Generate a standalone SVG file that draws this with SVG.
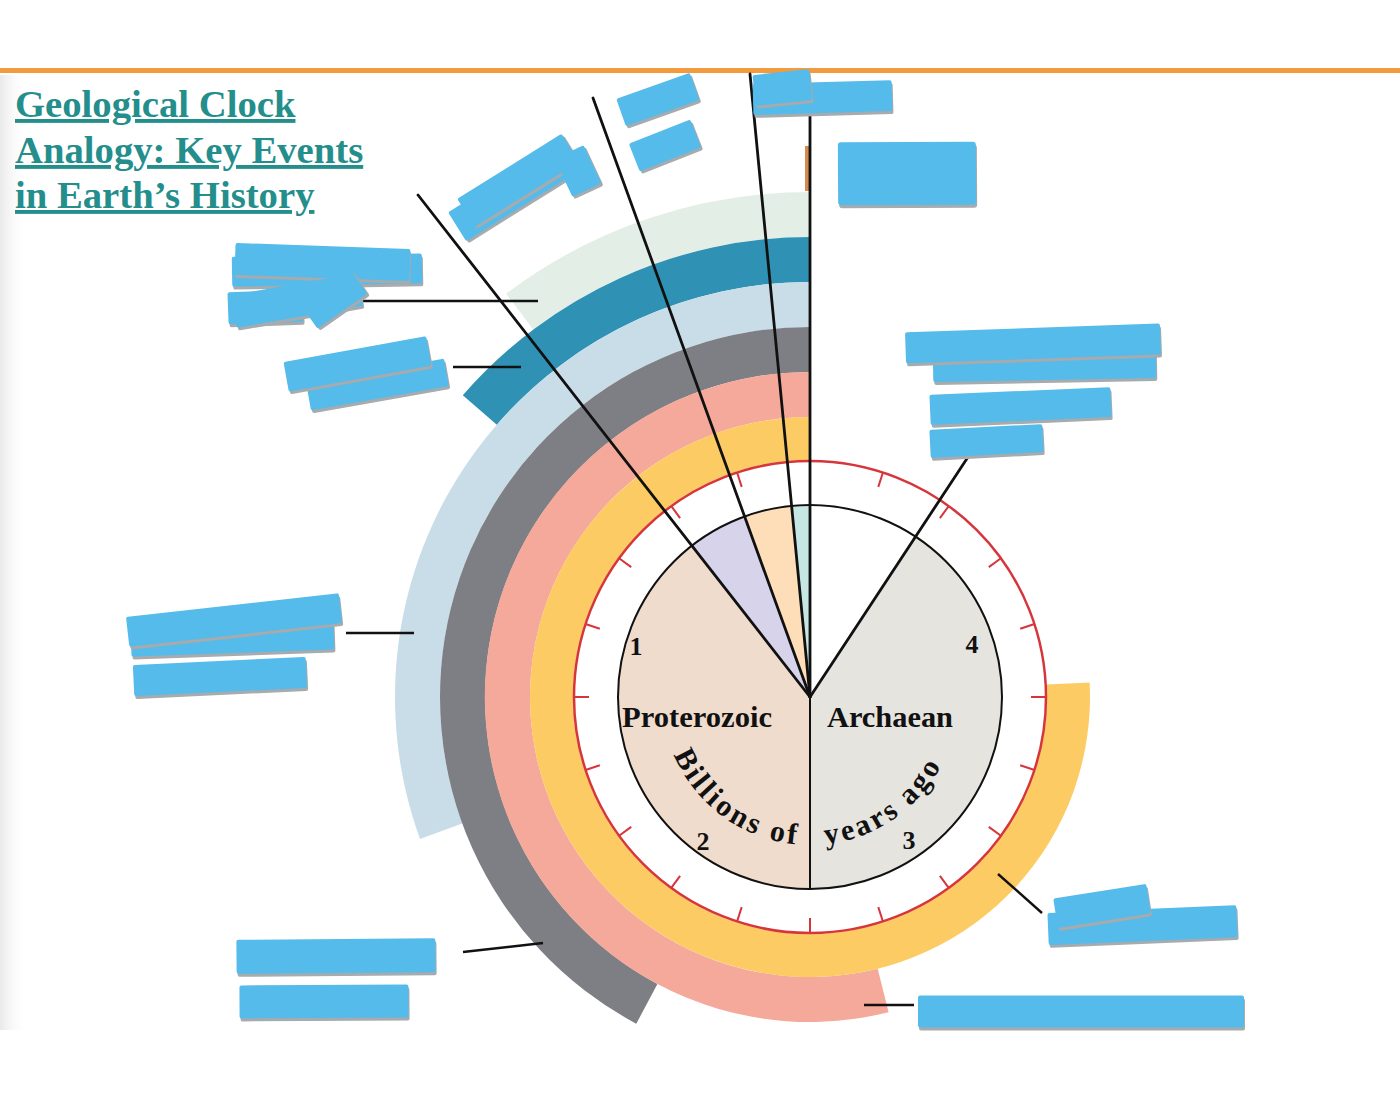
<svg xmlns="http://www.w3.org/2000/svg" width="1400" height="1100" viewBox="0 0 1400 1100">
<style>
.serif{font-family:"Liberation Serif","Times New Roman",serif;font-weight:bold}
.title{font-size:38.7px;fill:#238e8c;text-decoration:underline}
.lbl{font-size:29px;fill:#111}
.num{font-size:26px;fill:#111;text-anchor:middle}
.arc{font-size:30px;fill:#111;letter-spacing:3px}
.spoke{stroke:#111;stroke-width:2.8;fill:none;stroke-linecap:round}
.conn{stroke:#111;stroke-width:2.4;fill:none}
.tick{stroke:#d6353c;stroke-width:2}
.bx{fill:#55bbea}
.sh{fill:#a5abae}
</style>
<defs>
<path id="arcPath" d="M 662 697 A 148 148 0 0 0 958 697"/>
<linearGradient id="edge" x1="0" y1="0" x2="1" y2="0">
<stop offset="0" stop-color="#e9e9e9"/>
<stop offset="1" stop-color="#ffffff" stop-opacity="0"/>
</linearGradient>
</defs>
<rect x="0" y="0" width="1400" height="1100" fill="#ffffff"/>
<rect x="0" y="75" width="28" height="955" fill="url(#edge)"/>
<rect x="0" y="68" width="1400" height="5" fill="#f39a3d"/>

<g id="title" class="serif title">
<text x="15" y="117">Geological Clock</text>
<text x="15" y="163">Analogy: Key Events</text>
<text x="15" y="208">in Earth’s History</text>
</g>

<g id="bands">
<path id="band-palegreen" d="M 810 192 A 505 505 0 0 0 506.1 293.7 L 533.2 329.6 A 460 460 0 0 1 810 237 Z" fill="#e3efe6"/>
<path id="band-teal" d="M 810 237 A 460 460 0 0 0 462.8 395.2 L 496.8 424.7 A 415 415 0 0 1 810 282 Z" fill="#2f92b4"/>
<path id="band-lightblue" d="M 810 282 A 415 415 0 0 0 420 838.9 L 462.3 823.5 A 370 370 0 0 1 810 327 Z" fill="#c9dde8"/>
<path id="band-gray" d="M 810 327 A 370 370 0 0 0 636.3 1023.7 L 657.4 983.9 A 325 325 0 0 1 810 372 Z" fill="#7e7f84"/>
<path id="band-pink" d="M 810 372 A 325 325 0 1 0 888.6 1012.3 L 877.7 968.7 A 280 280 0 1 1 810 417 Z" fill="#f4a99b"/>
<path id="band-yellow" d="M 810 417 A 280 280 0 1 0 1089.6 682.4 L 1046.7 684.6 A 237 237 0 1 1 810 460 Z" fill="#fdcb64"/>
</g>

<g id="clock-ring">
<circle cx="810" cy="697" r="236" fill="none" stroke="#d6353c" stroke-width="2.5"/>
<g transform="translate(810 697)">
<line class="tick" x1="0" y1="-236" x2="0" y2="-221" transform="rotate(0)"/>
<line class="tick" x1="0" y1="-236" x2="0" y2="-221" transform="rotate(18)"/>
<line class="tick" x1="0" y1="-236" x2="0" y2="-221" transform="rotate(36)"/>
<line class="tick" x1="0" y1="-236" x2="0" y2="-221" transform="rotate(54)"/>
<line class="tick" x1="0" y1="-236" x2="0" y2="-221" transform="rotate(72)"/>
<line class="tick" x1="0" y1="-236" x2="0" y2="-221" transform="rotate(90)"/>
<line class="tick" x1="0" y1="-236" x2="0" y2="-221" transform="rotate(108)"/>
<line class="tick" x1="0" y1="-236" x2="0" y2="-221" transform="rotate(126)"/>
<line class="tick" x1="0" y1="-236" x2="0" y2="-221" transform="rotate(144)"/>
<line class="tick" x1="0" y1="-236" x2="0" y2="-221" transform="rotate(162)"/>
<line class="tick" x1="0" y1="-236" x2="0" y2="-221" transform="rotate(180)"/>
<line class="tick" x1="0" y1="-236" x2="0" y2="-221" transform="rotate(198)"/>
<line class="tick" x1="0" y1="-236" x2="0" y2="-221" transform="rotate(216)"/>
<line class="tick" x1="0" y1="-236" x2="0" y2="-221" transform="rotate(234)"/>
<line class="tick" x1="0" y1="-236" x2="0" y2="-221" transform="rotate(252)"/>
<line class="tick" x1="0" y1="-236" x2="0" y2="-221" transform="rotate(270)"/>
<line class="tick" x1="0" y1="-236" x2="0" y2="-221" transform="rotate(288)"/>
<line class="tick" x1="0" y1="-236" x2="0" y2="-221" transform="rotate(306)"/>
<line class="tick" x1="0" y1="-236" x2="0" y2="-221" transform="rotate(324)"/>
<line class="tick" x1="0" y1="-236" x2="0" y2="-221" transform="rotate(342)"/>
</g>
</g>

<g id="pie">
<path id="sector-archaean" d="M 810 697 L 915.7 536.7 A 192 192 0 0 1 810 889 Z" fill="#e6e4df"/>
<path id="sector-proterozoic" d="M 810 697 L 810 889 A 192 192 0 0 1 691.8 545.7 Z" fill="#efdccd"/>
<path id="sector-lavender" d="M 810 697 L 691.8 545.7 A 192 192 0 0 1 744.3 516.6 Z" fill="#d6d3ea"/>
<path id="sector-orange" d="M 810 697 L 744.3 516.6 A 192 192 0 0 1 791.6 505.9 Z" fill="#fddeb8"/>
<path id="sector-teal" d="M 810 697 L 791.6 505.9 A 192 192 0 0 1 810 505 Z" fill="#c5e6e3"/>
<circle cx="810" cy="697" r="192" fill="none" stroke="#111" stroke-width="2"/>
<line x1="810" y1="697" x2="810" y2="889" stroke="#111" stroke-width="2"/>
<text class="serif lbl" x="622" y="727" textLength="150" lengthAdjust="spacingAndGlyphs">Proterozoic</text>
<text class="serif lbl" x="827" y="727" textLength="126" lengthAdjust="spacingAndGlyphs">Archaean</text>
<text class="serif num" x="636" y="655">1</text>
<text class="serif num" x="972" y="653">4</text>
<text class="serif num" x="703" y="850">2</text>
<text class="serif num" x="909" y="849">3</text>
<text class="serif arc"><textPath href="#arcPath" startOffset="59">Billions of</textPath></text>
<text class="serif arc"><textPath href="#arcPath" startOffset="248">years ago</textPath></text>
</g>

<rect id="marker-bar" x="805" y="146" width="4" height="45" fill="#d68a4c"/>

<g id="connectors">
<line class="spoke" x1="810" y1="697" x2="418" y2="195"/>
<line class="spoke" x1="810" y1="697" x2="593" y2="98"/>
<line class="spoke" x1="810" y1="697" x2="750" y2="74"/>
<line class="spoke" x1="810" y1="697" x2="810" y2="114"/>
<line class="spoke" x1="810" y1="697" x2="968" y2="457"/>
<line class="conn" x1="355" y1="301" x2="538" y2="301"/>
<line class="conn" x1="453" y1="367" x2="521" y2="367"/>
<line class="conn" x1="346" y1="633" x2="414" y2="633"/>
<line class="conn" x1="463" y1="952" x2="543" y2="943"/>
<line class="conn" x1="998" y1="874" x2="1042" y2="913"/>
<line class="conn" x1="864" y1="1005" x2="914" y2="1005"/>
</g>

<g id="label-top-a">
<g transform="translate(658 100) rotate(-19.6)"><rect class="sh" x="-38" y="-12" width="78" height="29" rx="2"/><rect class="bx" x="-39" y="-15" width="78" height="29" rx="2"/></g>
<g transform="translate(665 145.5) rotate(-21.5)"><rect class="sh" x="-32" y="-12" width="66" height="30" rx="2"/><rect class="bx" x="-33" y="-15" width="66" height="30" rx="2"/></g>
</g>
<g id="label-top-b">
<g transform="translate(823 98) rotate(-1.6)"><rect class="sh" x="-69" y="-13" width="139" height="31" rx="2"/><rect class="bx" x="-70" y="-16" width="139" height="31" rx="2"/></g>
<g transform="translate(783 88) rotate(-6)"><rect class="sh" x="-28" y="-13" width="57" height="31" rx="2"/><rect class="bx" x="-29" y="-16" width="57" height="31" rx="2"/></g>
</g>
<g id="label-top-c">
<g transform="translate(907 174) rotate(-0.3)"><rect class="sh" x="-68" y="-29" width="138" height="63" rx="3"/><rect class="bx" x="-69" y="-32" width="138" height="63" rx="3"/></g>
</g>
<g id="label-upper-left">
<g transform="translate(508 195) rotate(-32)"><rect class="sh" x="-59" y="-14" width="120" height="34" rx="2"/><rect class="bx" x="-60" y="-17" width="120" height="34" rx="2"/></g>
<g transform="translate(518 181) rotate(-32)"><rect class="sh" x="-60" y="-14" width="123" height="33" rx="2"/><rect class="bx" x="-61" y="-17" width="123" height="33" rx="2"/></g>
<g transform="translate(578 171) rotate(-25)"><rect class="sh" x="-15" y="-18" width="32" height="42" rx="2"/><rect class="bx" x="-16" y="-21" width="32" height="42" rx="2"/></g>
</g>
<g id="label-palegreen">
<g transform="translate(327 270) rotate(-1)"><rect class="sh" x="-94" y="-12" width="190" height="30" rx="2"/><rect class="bx" x="-95" y="-15" width="190" height="30" rx="2"/></g>
<g transform="translate(323 262) rotate(2)"><rect class="sh" x="-87" y="-13" width="175" height="32" rx="2"/><rect class="bx" x="-88" y="-16" width="175" height="32" rx="2"/></g>
<g transform="translate(266 307) rotate(-2)"><rect class="sh" x="-37" y="-13" width="75" height="32" rx="2"/><rect class="bx" x="-38" y="-16" width="75" height="32" rx="2"/></g>
<g transform="translate(297 300) rotate(-10)"><rect class="sh" x="-63" y="-13" width="128" height="33" rx="2"/><rect class="bx" x="-64" y="-16" width="128" height="33" rx="2"/></g>
<g transform="translate(334 300) rotate(-35)"><rect class="sh" x="-29" y="-11" width="61" height="28" rx="2"/><rect class="bx" x="-30" y="-14" width="61" height="28" rx="2"/></g>
</g>
<g id="label-teal">
<g transform="translate(377.5 384.5) rotate(-10)"><rect class="sh" x="-69" y="-11" width="140" height="28" rx="2"/><rect class="bx" x="-70" y="-14" width="140" height="28" rx="2"/></g>
<g transform="translate(357 364) rotate(-10.3)"><rect class="sh" x="-71" y="-12" width="145" height="30" rx="2"/><rect class="bx" x="-72" y="-15" width="145" height="30" rx="2"/></g>
</g>
<g id="label-archaean">
<g transform="translate(1044 364) rotate(-1)"><rect class="sh" x="-110" y="-13" width="223" height="32" rx="2"/><rect class="bx" x="-111" y="-16" width="223" height="32" rx="2"/></g>
<g transform="translate(1032.5 344) rotate(-2)"><rect class="sh" x="-126" y="-13" width="255" height="31" rx="2"/><rect class="bx" x="-127" y="-16" width="255" height="31" rx="2"/></g>
<g transform="translate(1020 406) rotate(-2.5)"><rect class="sh" x="-89" y="-12" width="181" height="30" rx="2"/><rect class="bx" x="-90" y="-15" width="181" height="30" rx="2"/></g>
<g transform="translate(986 441) rotate(-3)"><rect class="sh" x="-55" y="-11" width="113" height="28" rx="2"/><rect class="bx" x="-56" y="-14" width="113" height="28" rx="2"/></g>
</g>
<g id="label-lightblue">
<g transform="translate(232 640) rotate(-2)"><rect class="sh" x="-100" y="-11" width="203" height="27" rx="2"/><rect class="bx" x="-101" y="-14" width="203" height="27" rx="2"/></g>
<g transform="translate(234 620) rotate(-6.4)"><rect class="sh" x="-106" y="-12" width="214" height="30" rx="2"/><rect class="bx" x="-107" y="-15" width="214" height="30" rx="2"/></g>
<g transform="translate(219.5 677) rotate(-2.7)"><rect class="sh" x="-85" y="-13" width="173" height="31" rx="2"/><rect class="bx" x="-86" y="-16" width="173" height="31" rx="2"/></g>
</g>
<g id="label-gray">
<g transform="translate(336.5 956) rotate(-0.5)"><rect class="sh" x="-99" y="-14" width="199" height="34" rx="2"/><rect class="bx" x="-100" y="-17" width="199" height="34" rx="2"/></g>
<g transform="translate(324.5 1001) rotate(-0.3)"><rect class="sh" x="-84" y="-13" width="169" height="33" rx="2"/><rect class="bx" x="-85" y="-16" width="169" height="33" rx="2"/></g>
</g>
<g id="label-yellow">
<g transform="translate(1143 925) rotate(-2.4)"><rect class="sh" x="-94" y="-13" width="189" height="32" rx="2"/><rect class="bx" x="-95" y="-16" width="189" height="32" rx="2"/></g>
<g transform="translate(1102 906) rotate(-9)"><rect class="sh" x="-46" y="-12" width="94" height="30" rx="2"/><rect class="bx" x="-47" y="-15" width="94" height="30" rx="2"/></g>
</g>
<g id="label-pink">
<g transform="translate(1081 1011.5)"><rect class="sh" x="-162" y="-13" width="326" height="32" rx="2"/><rect class="bx" x="-163" y="-16" width="326" height="32" rx="2"/></g>
</g>
</svg>
